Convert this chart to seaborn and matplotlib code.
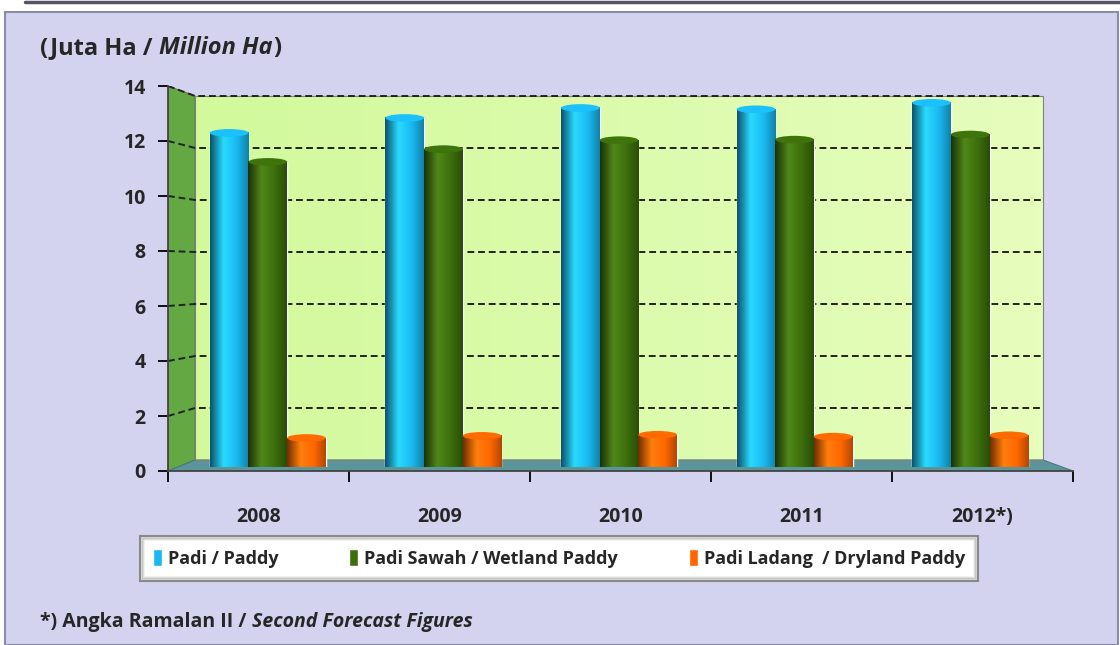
import numpy as np
import pandas as pd
import matplotlib
matplotlib.use("Agg")
import matplotlib.pyplot as plt
import seaborn as sns
from matplotlib.patches import Polygon, Rectangle, Ellipse
from matplotlib.lines import Line2D
from matplotlib.colors import LinearSegmentedColormap, to_rgb

# data (juta ha / million ha)
years = ["2008", "2009", "2010", "2011", "2012*)"]
padi = [12.33, 12.88, 13.25, 13.20, 13.44]
sawah = [11.26, 11.73, 12.06, 12.08, 12.27]
ladang = [1.07, 1.15, 1.19, 1.12, 1.17]
series = ["Padi / Paddy", "Padi Sawah / Wetland Paddy", "Padi Ladang  / Dryland Paddy"]
colors = ["#19B8F0", "#3C6E0C", "#FF6600"]
yticks = [0, 2, 4, 6, 8, 10, 12, 14]

df = pd.DataFrame({"year": years * 3,
                   "value": padi + sawah + ladang,
                   "series": np.repeat(series, len(years))})

sns.set_theme(style="white")
plt.rcParams["font.family"] = ["Open Sans", "DejaVu Sans"]

W, H = 1120, 645
fig = plt.figure(figsize=(W / 100, H / 100), dpi=100)
fig.patch.set_facecolor("white")

# outer frame
fig.patches.append(Rectangle((5 / W, 0), (W - 7) / W, (H - 12) / H, transform=fig.transFigure,
                             facecolor="#D3D3F0", edgecolor="#8C8CA8", lw=1.5, zorder=-10))
fig.lines.append(Line2D([25 / W, 1], [1 - 2 / H, 1 - 2 / H], transform=fig.transFigure,
                        color="#555566", lw=2.5))

# front axis (walls, ticks)
ax = fig.add_axes([168 / W, 1 - 471 / H, 905 / W, (471 - 86) / H])
ax.set_facecolor("none")

wx0, wx1, wy0, wy1 = 0.03, 0.967, 0.0286, 0.974
grad = np.linspace(0, 1, 100).reshape(1, -1)
wall_cmap = LinearSegmentedColormap.from_list("wall", ["#D2F99C", "#E6FDBC"])
ax.imshow(grad, cmap=wall_cmap, extent=[wx0, wx1, wy0, wy1], transform=ax.transAxes,
          aspect="auto", zorder=0)
ax.add_patch(Polygon([(0, 0), (wx0, wy0), (wx0, wy1), (0, 1)], closed=True, transform=ax.transAxes,
                     facecolor="#64A843", edgecolor="#4E7F34", lw=0.8, zorder=1))
ax.add_patch(Polygon([(0, 0), (1, 0), (wx1, wy0), (wx0, wy0)], closed=True, transform=ax.transAxes,
                     facecolor="#5B9599", edgecolor="#4A7A80", lw=0.8, zorder=1))
ax.add_patch(Rectangle((wx0, wy0), wx1 - wx0, wy1 - wy0, transform=ax.transAxes,
                       facecolor="none", edgecolor="#808080", lw=0.8, zorder=1))
for v in yticks[1:]:
    f = v / 14
    b = wy0 + f * (wy1 - wy0)
    ax.plot([0, wx0, wx1], [f, b, b], transform=ax.transAxes, color="#222222",
            lw=1.4, ls=(0, (3.5, 2)), zorder=2)

ax.set_xlim(-0.5, 4.5)
ax.set_ylim(0, 14)
ax.set_yticks(yticks)
ax.set_yticklabels([str(t) for t in yticks], fontweight="bold", fontsize=14)
ax.set_xticks(np.arange(-0.5, 5, 1))
ax.set_xticklabels([])
ax.set_xticks(range(len(years)), minor=True)
ax.set_xticklabels(years, minor=True)
plt.setp(ax.get_xticklabels(minor=True), fontweight="bold", fontsize=14)
ax.tick_params(axis="x", which="major", length=8, width=1.3, direction="out", color="black", bottom=True)
ax.tick_params(axis="x", which="minor", length=0, pad=26)
ax.tick_params(axis="y", length=7, width=1.3, direction="out", color="black", left=True, pad=9)
for s in ["top", "right"]:
    ax.spines[s].set_visible(False)
for s in ["left", "bottom"]:
    ax.spines[s].set_color("#444444")
    ax.spines[s].set_linewidth(1.3)

# bars sit a little deeper in the box, so they get their own axes
bx = fig.add_axes([180 / W, 1 - 467 / H, 878 / W, 14 * 27.1 / H])
bx.set_facecolor("none")
sns.barplot(data=df, x="year", y="value", hue="series", palette=colors,
            width=0.66, gap=0, saturation=1, ax=bx, zorder=3)
bars = list(bx.patches)
for bar in bars:
    x, w, h = bar.get_x(), bar.get_width(), bar.get_height()
    c = np.array(to_rgb(bar.get_facecolor()))
    cm = LinearSegmentedColormap.from_list(
        "cyl", [(0, c * 0.45), (0.35, np.clip(c * 1.12 + 0.05, 0, 1)), (0.7, c), (1, c * 0.7)])
    bx.imshow(grad, cmap=cm, extent=[x, x + w, 0, h], aspect="auto", zorder=4)
    bx.add_patch(Ellipse((x + w / 2, h), w, 0.28, facecolor=np.clip(c * 1.05, 0, 1),
                         edgecolor="none", zorder=5))
    bx.add_patch(Ellipse((x + w / 2, 0), w, 0.28, facecolor=c * 0.75,
                         edgecolor="none", zorder=3.5))
bx.set_xlim(-0.5, 4.5)
bx.set_ylim(0, 14)
bx.axis("off")

sns.move_legend(bx, "center", bbox_to_anchor=(140 / W, 1 - 580 / H, 838 / W, 43 / H),
                bbox_transform=fig.transFigure, ncol=3, mode="expand", title=None,
                frameon=True, fancybox=False, edgecolor="#8A8A8A", facecolor="white",
                framealpha=1, prop={"weight": "bold", "size": 13}, borderaxespad=0,
                handlelength=0.5, handleheight=1.1, handletextpad=0.35, borderpad=0.7)
leg = bx.get_legend()
leg.get_frame().set_linewidth(1.5)
leg.set_zorder(10)

# title
t1 = fig.text(40 / W, 1 - 48 / H, "(Juta Ha / ", fontsize=17, fontweight="bold", va="center")
t2 = fig.text(0, 0, "Million Ha", fontsize=17, fontweight="bold", style="italic")
t3 = fig.text(0, 0, ")", fontsize=17, fontweight="bold")
fig.canvas.draw()
r = fig.canvas.get_renderer()
bb = t1.get_window_extent(r)
t2.set_position((bb.x1 / W, 1 - 48 / H)); t2.set_va("center")
bb2 = t2.get_window_extent(r)
t3.set_position(((bb2.x1 + 1) / W, 1 - 48 / H)); t3.set_va("center")

# soft inner shade of the legend box
lb = leg.get_frame().get_window_extent(r)
for i, a in enumerate([0.3, 0.18, 0.09]):
    d = i + 2
    fig.patches.append(Rectangle(((lb.x0 + d) / W, (lb.y0 + d) / H), (lb.width - 2 * d) / W,
                                 (lb.height - 2 * d) / H, transform=fig.transFigure,
                                 facecolor="none", edgecolor="#808080", alpha=a, lw=1.5, zorder=11))

# footnote
f1 = fig.text(40 / W, 1 - 622 / H, "*) Angka Ramalan II / ", fontsize=14, fontweight="bold", va="center")
bb = f1.get_window_extent(r)
fig.text(bb.x1 / W, 1 - 622 / H, "Second Forecast Figures", fontsize=14, fontweight="bold",
         style="italic", va="center")

fig.savefig("out.png", dpi=100, facecolor=fig.get_facecolor())
